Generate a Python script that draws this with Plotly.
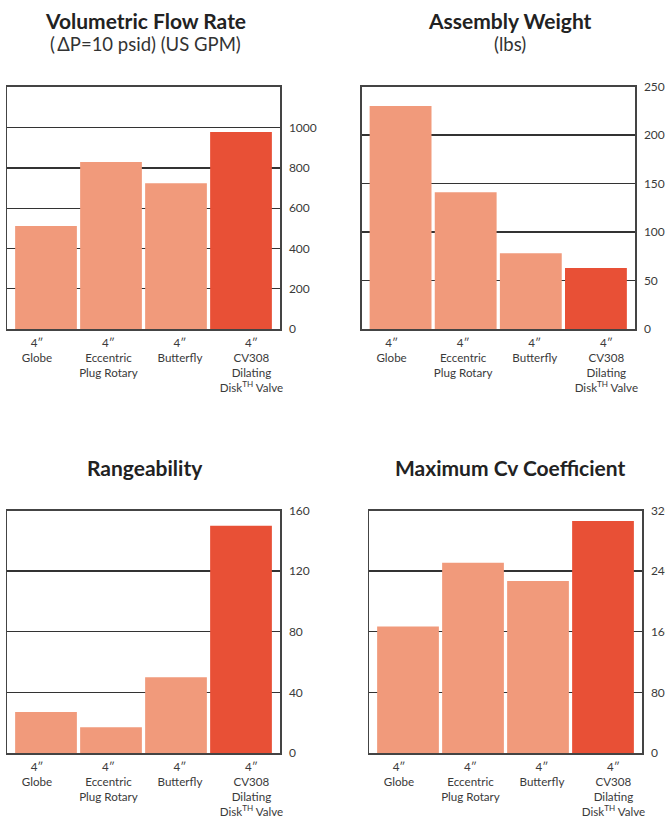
import plotly.graph_objects as go

# ---- data ----
categories = ["4″<br>Globe", "4″<br>Eccentric<br>Plug Rotary", "4″<br>Butterfly",
              "4″<br>CV308<br>Dilating<br>Disk<sup>TH</sup> Valve"]
flow_rate = [512, 829, 724, 978]
weight = [230, 141, 78, 63]
rangeability = [27, 17, 50, 150]
cv_coeff = [167, 251, 227, 306]

flow_ticks = [0, 200, 400, 600, 800, 1000]
weight_ticks = [0, 50, 100, 150, 200, 250]
range_ticks = [0, 40, 80, 120, 160]
cv_ticks = [0, 80, 160, 240, 320]

titles = ["Volumetric Flow Rate", "Assembly Weight", "Rangeability", "Maximum Cv Coefficient"]
subtitles = ["(\u2009ΔP=10 psid) (US GPM)", "(lbs)", "", ""]

LIGHT = "#F19A7B"
DARK = "#E85036"
bar_colors = [LIGHT, LIGHT, LIGHT, DARK]

W, H = 665, 820
FONT = "Lato"
TXT = "#3a3a3a"

# panel boxes in window pixels (left, right, top, bottom)
boxes = [(7, 280, 86.5, 329), (361.5, 635, 86.5, 329),
         (7, 280, 510.5, 753), (369, 642, 510.5, 753)]
series = [flow_rate, weight, rangeability, cv_coeff]
ranges = [(0, 1204), (0, 250), (0, 160), (0, 320)]
ticks = [flow_ticks, weight_ticks, range_ticks, cv_ticks]
title_x = [145, 510, 145, 510]
title_y = [20, 20, 468, 468]
sub_y = [44, 44, None, None]


def px_x(v):
    return min(1.0, max(0.0, v / W))


def px_y(v):
    return min(1.0, max(0.0, 1 - v / H))


fig = go.Figure()
layout = dict(width=W, height=H, margin=dict(l=0, r=0, t=0, b=0),
              paper_bgcolor="white", plot_bgcolor="white", showlegend=False,
              font=dict(family=FONT, color=TXT), annotations=[], bargap=0.05)

xidx = [0, 1, 2, 3]
for i in range(4):
    l, r, t, b = boxes[i]
    n = i + 1
    xa = "x" if n == 1 else f"x{n}"
    ya = "y" if n == 1 else f"y{n}"
    lab = f"x{n+4}"
    dom_x = [px_x(l), px_x(r)]
    dom_y = [px_y(b), px_y(t)]
    fig.add_trace(go.Bar(x=xidx, y=series[i], marker=dict(color=bar_colors, line=dict(width=0)),
                         width=0.95, xaxis=xa, yaxis=ya, hoverinfo="skip"))
    fig.add_trace(go.Scatter(x=xidx, y=[0, 0, 0, 0], mode="markers",
                             marker=dict(opacity=0, size=1), xaxis=lab, yaxis=ya,
                             hoverinfo="skip"))
    layout[f"xaxis{n if n > 1 else ''}"] = dict(
        domain=dom_x, anchor=ya, range=[-0.6, 3.6], showticklabels=False,
        showgrid=False, zeroline=False, showline=True, mirror=True,
        linecolor="#444", linewidth=1.5, ticks="", automargin=False)
    layout[f"xaxis{n+4}"] = dict(
        domain=dom_x, anchor=ya, overlaying=xa, range=[-0.42, 3.40],
        tickmode="array", tickvals=xidx, ticktext=categories,
        tickfont=dict(family=FONT, size=11.6, color=TXT),
        showgrid=False, zeroline=False, showline=False, ticks="",
        automargin=False, side="bottom", ticklabelstandoff=5)
    layout[f"yaxis{n if n > 1 else ''}"] = dict(
        domain=dom_y, anchor=xa, side="right", range=list(ranges[i]),
        tickmode="array", tickvals=ticks[i],
        tickfont=dict(family=FONT, size=12, color=TXT),
        showgrid=True, gridcolor="#333", gridwidth=1.3, zeroline=False,
        showline=True, mirror=True, linecolor="#444", linewidth=1.5,
        ticks="", automargin=False, ticklabelstandoff=5)
    layout["annotations"].append(dict(
        text=f"<b>{titles[i]}</b>", x=px_x(title_x[i]), y=px_y(title_y[i]),
        xref="paper", yref="paper", xanchor="center", yanchor="middle", showarrow=False,
        font=dict(family=FONT, size=21, color="#222")))
    if sub_y[i] is not None:
        layout["annotations"].append(dict(
            text=subtitles[i], x=px_x(title_x[i]), y=px_y(sub_y[i]),
            xref="paper", yref="paper", xanchor="center", yanchor="middle", showarrow=False,
            font=dict(family=FONT, size=18.5, color="#333")))

fig.update_layout(**layout)
fig.write_html("out.html", config={"displayModeBar": False, "staticPlot": True},
               post_script="document.body.style.margin='0';document.body.style.overflow='hidden';")
